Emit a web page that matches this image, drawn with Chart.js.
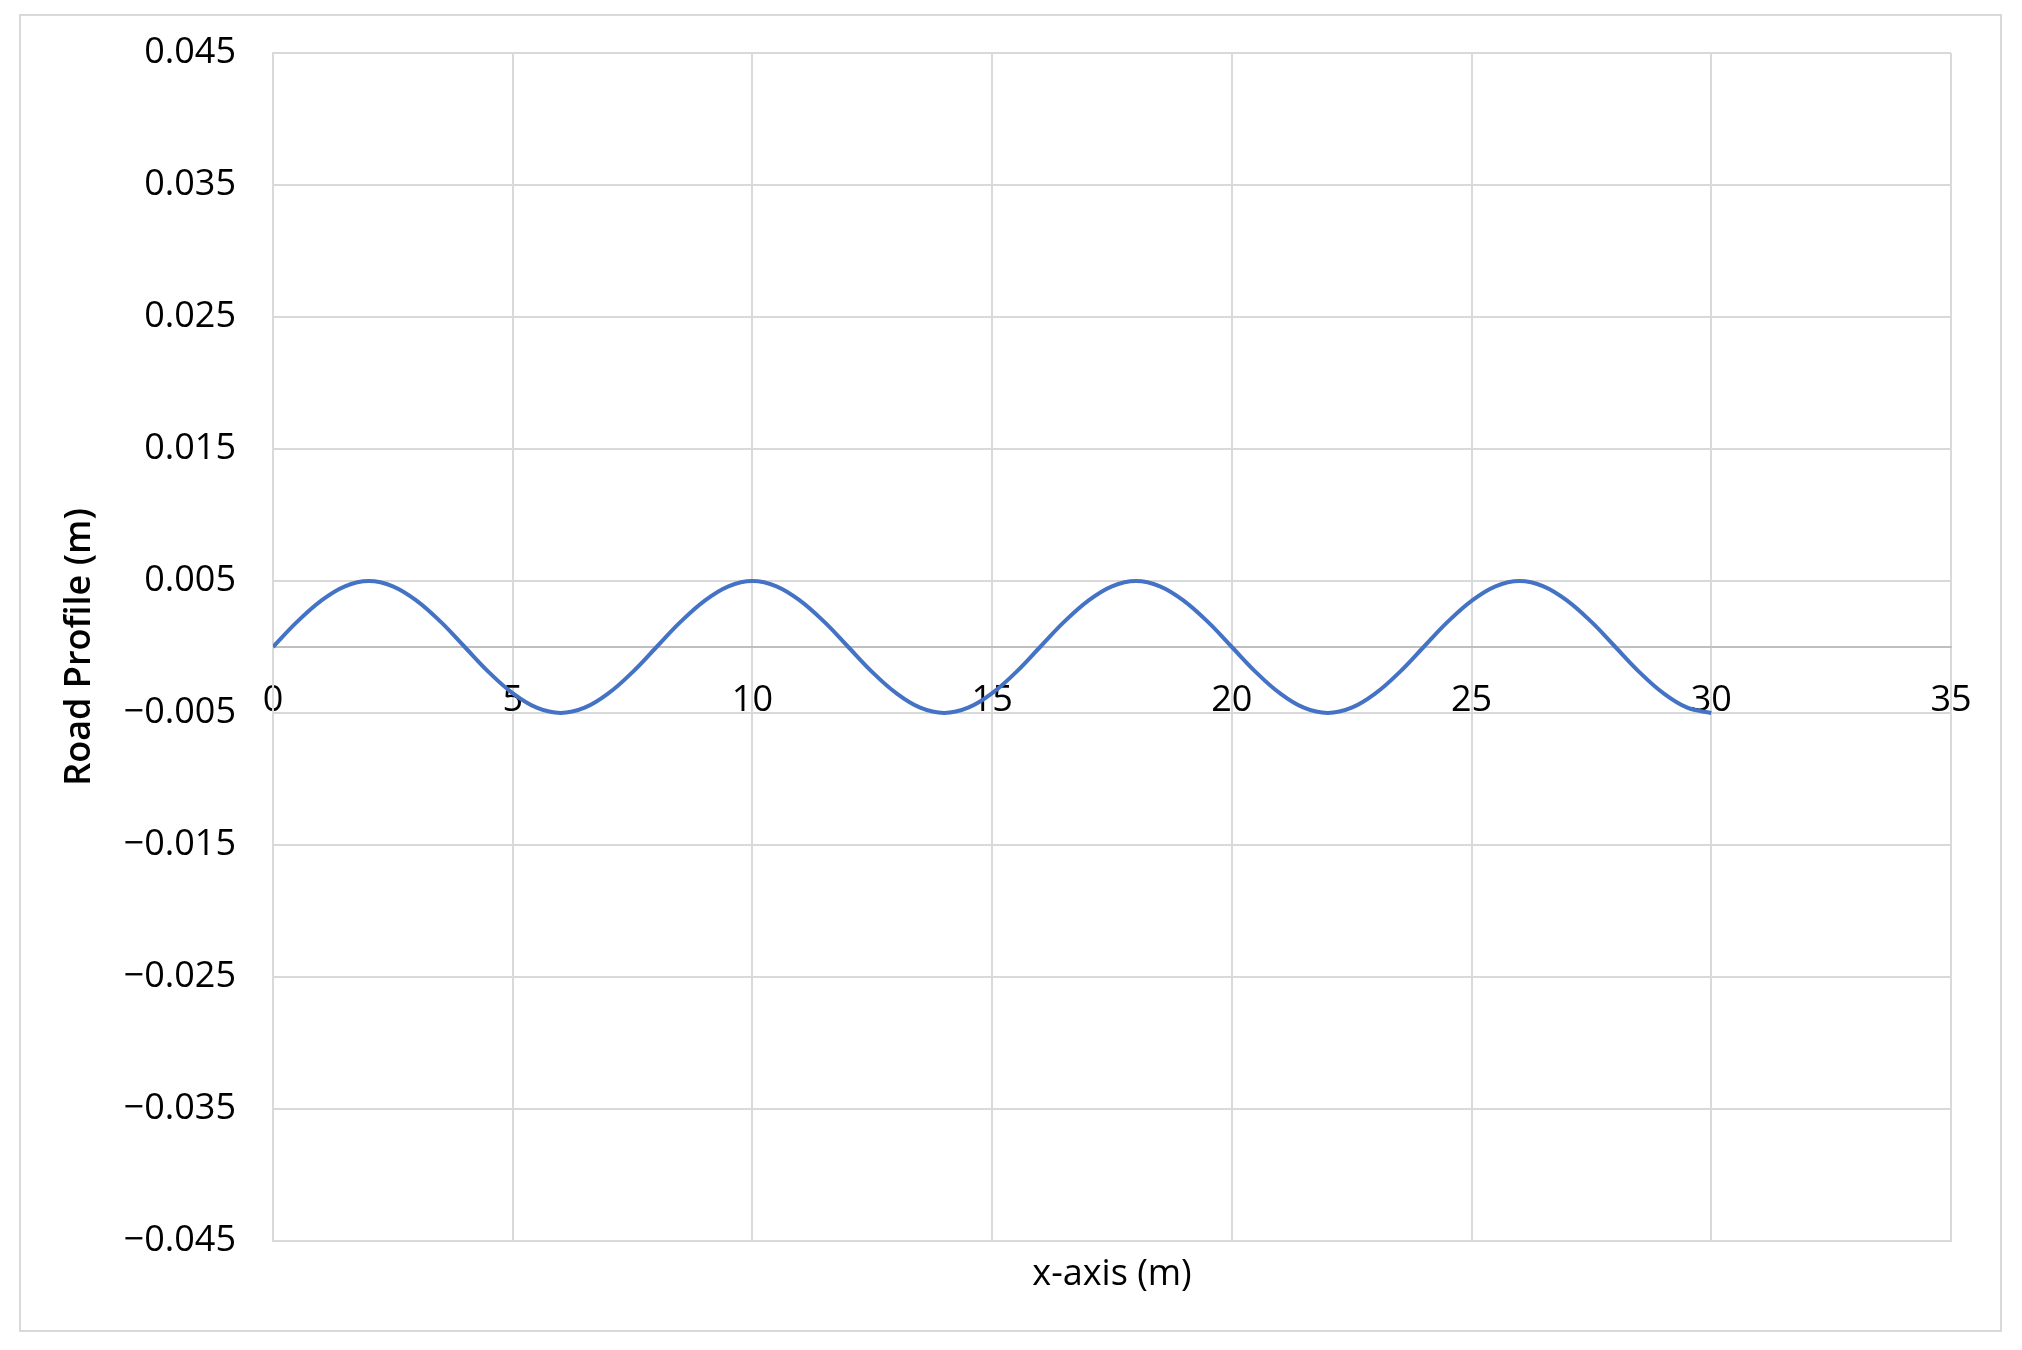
<!DOCTYPE html>
<html>
<head>
<meta charset="utf-8">
<script src="https://cdn.jsdelivr.net/npm/chart.js@4/dist/chart.umd.min.js"></script>
<style>
  html, body { margin: 0; padding: 0; background: #fff; }
  #wrap { width: 2022px; height: 1350px; }
</style>
</head>
<body>
<div id="wrap"><canvas id="grafico" width="2022" height="1350"></canvas></div>
<script>
// distancia ao longo da pista (m)
const xDistancia = [
  0, 0.5, 1, 1.5, 2, 2.5, 3, 3.5, 4, 4.5, 5, 5.5, 6, 6.5, 7, 7.5,
  8, 8.5, 9, 9.5, 10, 10.5, 11, 11.5, 12, 12.5, 13, 13.5, 14, 14.5, 15, 15.5,
  16, 16.5, 17, 17.5, 18, 18.5, 19, 19.5, 20, 20.5, 21, 21.5, 22, 22.5, 23, 23.5,
  24, 24.5, 25, 25.5, 26, 26.5, 27, 27.5, 28, 28.5, 29, 29.5, 30
];
// perfil da estrada (m)
const perfilEstrada = [
  0, 0.0019, 0.0035, 0.0046, 0.005, 0.0046, 0.0035, 0.0019, 0, -0.0019, -0.0035, -0.0046, -0.005, -0.0046, -0.0035, -0.0019,
  0, 0.0019, 0.0035, 0.0046, 0.005, 0.0046, 0.0035, 0.0019, 0, -0.0019, -0.0035, -0.0046, -0.005, -0.0046, -0.0035, -0.0019,
  0, 0.0019, 0.0035, 0.0046, 0.005, 0.0046, 0.0035, 0.0019, 0, -0.0019, -0.0035, -0.0046, -0.005, -0.0046, -0.0035, -0.0019,
  0, 0.0019, 0.0035, 0.0046, 0.005, 0.0046, 0.0035, 0.0019, 0, -0.0019, -0.0035, -0.0046, -0.005
];
// ticks dos eixos
const xTicks = [0, 5, 10, 15, 20, 25, 30, 35];
const yTicks = [-0.045, -0.035, -0.025, -0.015, -0.005, 0.005, 0.015, 0.025, 0.035, 0.045];

const corLinha = '#4472c4';
const corGrade = '#d9d9d9';
const corZero = '#bfbfbf';
const fonte = '"Open Sans", "Noto Sans", sans-serif';

// moldura externa
const moldura = {
  id: 'moldura',
  beforeDraw(chart) {
    const c = chart.ctx;
    c.save();
    c.strokeStyle = corGrade;
    c.lineWidth = 2;
    c.strokeRect(20, 15, 1981, 1316);
    c.restore();
  }
};

const pontos = xDistancia.map((x, i) => ({ x: x, y: perfilEstrada[i] }));

new Chart(document.getElementById('grafico'), {
  type: 'line',
  data: {
    datasets: [{
      label: 'Road Profile',
      data: pontos,
      borderColor: corLinha,
      borderWidth: 4,
      pointRadius: 0,
      tension: 0.4,
      fill: false
    }]
  },
  options: {
    responsive: false,
    animation: false,
    layout: { padding: { top: 53, right: 71, bottom: 0, left: 0 } },
    plugins: { legend: { display: false }, tooltip: { enabled: false } },
    scales: {
      x: {
        type: 'linear',
        position: 'bottom',
        min: 0, max: 35,
        afterBuildTicks: s => { s.ticks = xTicks.map(v => ({ value: v })); },
        ticks: { display: false },
        grid: { color: corGrade, lineWidth: 2, drawTicks: false },
        border: { color: corGrade, width: 2 },
        title: {
          display: true, text: 'x-axis (m)', color: '#000',
          font: { family: fonte, size: 36 }, padding: { top: 0, bottom: 54 }
        },
        afterFit: s => { s.height = 109; }
      },
      xZero: {
        type: 'linear',
        axis: 'x',
        position: { y: 0 },
        min: 0, max: 35,
        afterBuildTicks: s => { s.ticks = xTicks.map(v => ({ value: v })); },
        ticks: { color: '#000', font: { family: fonte, size: 36 }, padding: 32, maxRotation: 0 },
        grid: { display: false, drawTicks: false, tickLength: 0 },
        border: { color: corZero, width: 2 }
      },
      y: {
        type: 'linear',
        min: -0.045, max: 0.045,
        afterBuildTicks: s => { s.ticks = yTicks.map(v => ({ value: v })); },
        ticks: {
          color: '#000', font: { family: fonte, size: 36 }, padding: 0,
          callback: v => v.toFixed(3).replace('-', '\u2212')
        },
        grid: { color: corGrade, lineWidth: 2, drawTicks: true, tickLength: 37, tickColor: 'rgba(0,0,0,0)' },
        border: { color: corGrade, width: 2 },
        title: {
          display: true, text: 'Road Profile (m)', color: '#000',
          font: { family: fonte, size: 36, weight: '600' }, padding: { top: 58, bottom: 0 }
        },
        afterFit: s => { s.width = 273; }
      }
    }
  },
  plugins: [moldura]
});
</script>
</body>
</html>
